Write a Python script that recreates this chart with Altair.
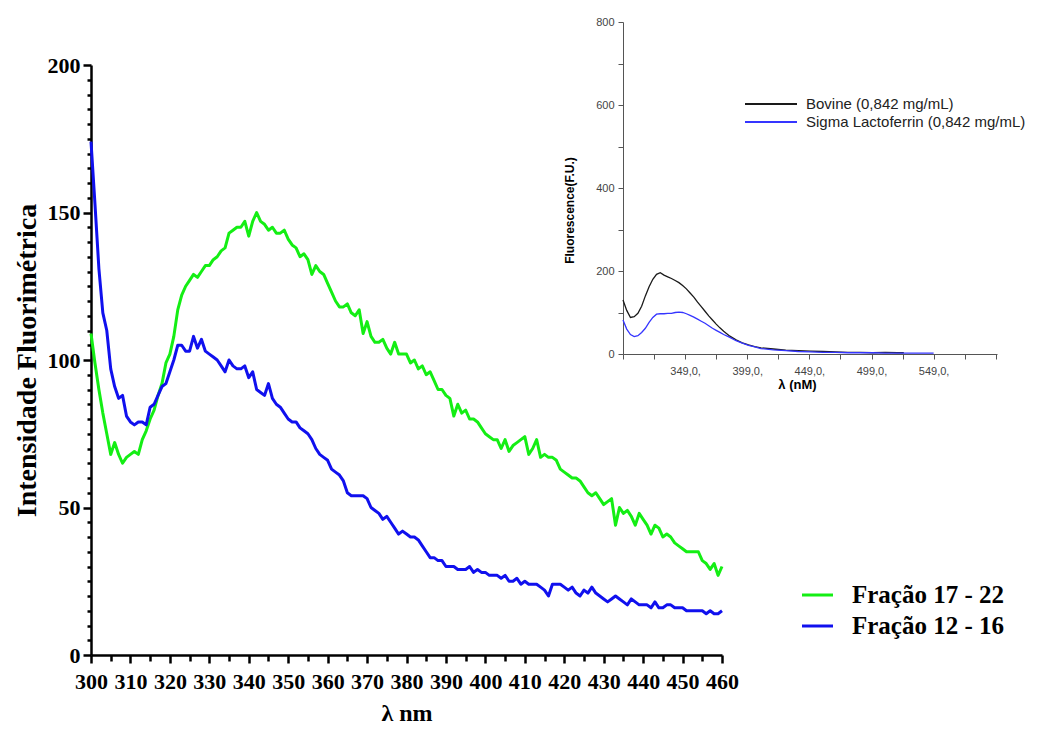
import altair as alt
import pandas as pd

# ---------------- main plot data ----------------
wavelength = list(range(300, 461))

fracao_17_22 = [
    109, 99, 90, 82, 75, 68, 72, 68, 65, 67,
    68, 69, 68, 73, 76, 80, 83, 88, 92, 99,
    102, 108, 117, 122, 125, 127, 129, 128, 130, 132,
    132, 134, 135, 137, 138, 143, 144, 145, 145, 147,
    142, 147, 150, 147, 146, 144, 145, 143, 143, 144,
    141, 139, 138, 135, 136, 134, 129, 132, 130, 129,
    126, 123, 120, 118, 118, 119, 116, 115, 117, 109,
    113, 108, 106, 106, 107, 104, 102, 106, 102, 102,
    102, 99, 100, 97, 98, 95, 96, 93, 90, 90,
    88, 87, 81, 85, 82, 83, 80, 80, 79, 77,
    75, 74, 73, 73, 70, 73, 69, 71, 72, 73,
    74, 68, 70, 73, 67, 68, 67, 67, 66, 63,
    62, 61, 60, 60, 59, 57, 55, 54, 55, 53,
    51, 52, 53, 44, 50, 48, 49, 47, 44, 48,
    46, 44, 41, 44, 43, 40, 41, 40, 38, 37,
    36, 35, 35, 35, 35, 32, 31, 29, 31, 27,
    30,
]

fracao_12_16 = [
    174, 153, 131, 116, 110, 97, 91, 87, 88, 81,
    79, 78, 79, 79, 78, 84, 85, 88, 91, 92,
    96, 100, 105, 105, 103, 103, 108, 104, 107, 103,
    102, 101, 100, 98, 96, 100, 98, 97, 97, 98,
    94, 96, 90, 89, 88, 92, 87, 85, 84, 82,
    80, 79, 79, 77, 76, 75, 73, 70, 68, 67,
    66, 63, 62, 61, 59, 55, 54, 54, 54, 54,
    53, 50, 49, 48, 46, 47, 45, 43, 41, 42,
    41, 40, 40, 39, 37, 35, 33, 33, 32, 32,
    30, 30, 30, 29, 29, 29, 30, 28, 29, 28,
    28, 27, 27, 27, 26, 27, 25, 25, 26, 24,
    25, 24, 24, 24, 23, 22, 20, 24, 24, 24,
    23, 22, 23, 21, 20, 22, 21, 23, 21, 20,
    19, 18, 19, 20, 19, 18, 17, 19, 18, 17,
    17, 17, 16, 18, 16, 16, 17, 17, 16, 16,
    16, 15, 15, 15, 15, 15, 14, 15, 14, 14,
    15,
]

main_names = ["Fração 17 - 22", "Fração 12 - 16"]
main_colors = ["#14ee14", "#1010ee"]

# ---------------- inset data ----------------
bovine_nm = [299, 302, 305, 308, 311, 314, 317, 320, 323, 326, 329, 332, 335,
             338, 341, 344, 347, 350, 353, 356, 359, 362, 365, 368, 371, 374,
             377, 380, 385, 390, 395, 400, 405, 410, 420, 430, 440, 450, 460,
             470, 480, 490, 500, 510, 520, 525]
bovine = [130, 105, 88, 90, 98, 115, 140, 162, 180, 192, 196, 190, 186,
          182, 177, 172, 165, 157, 147, 137, 125, 114, 103, 92, 82, 72,
          63, 55, 43, 34, 27, 22, 18, 15, 12, 9, 8, 7, 6,
          5, 4, 4, 3, 4, 3, 3]

sigma_nm = [299, 302, 305, 308, 311, 314, 317, 320, 323, 326, 329, 332, 335,
            338, 341, 344, 347, 350, 353, 356, 359, 362, 365, 368, 371, 374,
            377, 380, 385, 390, 395, 400, 405, 410, 420, 430, 440, 450, 460,
            470, 480, 490, 500, 510, 520, 530, 540, 549]
sigma = [82, 60, 47, 42, 44, 52, 62, 76, 88, 96, 97, 97, 98,
         98, 100, 101, 100, 97, 93, 89, 84, 79, 74, 68, 62, 57,
         52, 47, 40, 32, 26, 21, 17, 13, 10, 8, 6, 5, 4,
         4, 3, 3, 3, 2, 2, 2, 2, 2]

inset_names = ["Bovine (0,842 mg/mL)", "Sigma Lactoferrin (0,842 mg/mL)"]
inset_colors = ["#1a1a1a", "#3535ff"]

main_df = pd.DataFrame({
    "nm": wavelength + wavelength,
    "v": fracao_17_22 + fracao_12_16,
    "s": [main_names[0]] * len(wavelength) + [main_names[1]] * len(wavelength),
})
inset_df = pd.DataFrame({
    "nm": bovine_nm + sigma_nm,
    "v": bovine + sigma,
    "s": [inset_names[0]] * len(bovine_nm) + [inset_names[1]] * len(sigma_nm),
})

serif = "Liberation Serif"
sans = "Liberation Sans"

main = alt.Chart(main_df).mark_line(strokeWidth=3, strokeJoin="round").encode(
    x=alt.X("nm:Q",
            scale=alt.Scale(domain=[300, 460], range=[0, 631], nice=False, zero=False),
            axis=alt.Axis(orient="bottom", offset=-70, title="λ nm",
                          values=list(range(300, 461, 5)),
                          labelExpr="datum.value % 10 == 0 ? datum.label : ''",
                          tickSize={"condition": {"test": "datum.value % 10 == 0", "value": 8}, "value": 6},
                          grid=False, domainColor="black", domainWidth=2.5,
                          tickColor="black", tickWidth=2.5,
                          labelFont=serif, labelFontWeight="bold", labelFontSize=22,
                          labelColor="black", labelPadding=8, labelFlush=False,
                          labelOverlap=False,
                          titleFont=serif, titleFontWeight="bold", titleFontSize=24,
                          titleColor="black", titlePadding=9)),
    y=alt.Y("v:Q",
            scale=alt.Scale(domain=[0, 200], range=[640, 50], nice=False),
            axis=alt.Axis(orient="left", title="Intensidade Fluorimétrica",
                          values=list(range(0, 201, 5)),
                          labelExpr="datum.value % 50 == 0 ? datum.label : ''",
                          tickSize={"condition": {"test": "datum.value % 50 == 0", "value": 8}, "value": 4},
                          grid=False, domainColor="black", domainWidth=2.5,
                          tickColor="black", tickWidth=2.5,
                          labelFont=serif, labelFontWeight="bold", labelFontSize=22,
                          labelColor="black", labelPadding=3, labelFlush=False,
                          labelOverlap=False,
                          titleFont=serif, titleFontWeight="bold", titleFontSize=28,
                          titleColor="black", titlePadding=6)),
    color=alt.Color("s:N",
                    scale=alt.Scale(domain=main_names, range=main_colors),
                    legend=alt.Legend(orient="none", legendX=709.5, legendY=563,
                                      title=None, symbolType="stroke", symbolSize=961,
                                      symbolStrokeWidth=3, labelOffset=17.5, rowPadding=1,
                                      labelFont=serif, labelFontSize=25,
                                      labelFontWeight="bold", labelColor="black",
                                      padding=0, labelLimit=400)),
)

inset = alt.Chart(inset_df).mark_line(strokeWidth=1.3).encode(
    x=alt.X("nm:Q",
            scale=alt.Scale(domain=[299, 600], range=[532, 906], nice=False, zero=False),
            axis=alt.Axis(orient="bottom", offset=-371, title="λ (nM)",
                          values=list(range(299, 600, 25)),
                          labelExpr="indexof([349,399,449,499,549], datum.value) >= 0 ? datum.value + ',0,' : ''",
                          tickSize=5, grid=False, domainColor="#555", domainWidth=1,
                          tickColor="#555", tickWidth=1,
                          labelFont=sans, labelFontSize=11, labelColor="#444",
                          labelPadding=6, labelFlush=False, labelOverlap=False,
                          titleFont=sans, titleFontWeight="bold", titleFontSize=13,
                          titleColor="black", titlePadding=2, titleX=706)),
    y=alt.Y("v:Q",
            scale=alt.Scale(domain=[0, 800], range=[339, 7], nice=False),
            axis=alt.Axis(orient="left", offset=-532, title="Fluorescence(F.U.)",
                          values=list(range(0, 801, 100)),
                          labelExpr="datum.value % 200 == 0 ? datum.label : ''",
                          tickSize=5, grid=False, domainColor="#555", domainWidth=1,
                          tickColor="#555", tickWidth=1,
                          labelFont=sans, labelFontSize=11, labelColor="#444",
                          labelPadding=4, labelFlush=False, labelOverlap=False,
                          titleFont=sans, titleFontWeight="bold", titleFontSize=12,
                          titleColor="black", titlePadding=19, titleY=195)),
    color=alt.Color("s:N",
                    scale=alt.Scale(domain=inset_names, range=inset_colors),
                    legend=alt.Legend(orient="none", legendX=671, legendY=80,
                                      title=None, symbolType="M-3.25,0H3.25", symbolSize=256,
                                      symbolStrokeWidth=2, labelOffset=26, rowPadding=1,
                                      labelFont=sans, labelFontSize=15,
                                      labelColor="#222", padding=0, labelLimit=400)),
)

chart = alt.layer(main, inset).resolve_scale(
    x="independent", y="independent", color="independent"
).properties(
    width=930, height=710,
    padding={"left": 83, "top": 7, "right": 10, "bottom": 0},
    autosize=alt.AutoSizeParams(type="none"),
    background="white",
).configure_view(stroke=None)

chart.save("out.html", embed_options={"renderer": "svg", "actions": False})
